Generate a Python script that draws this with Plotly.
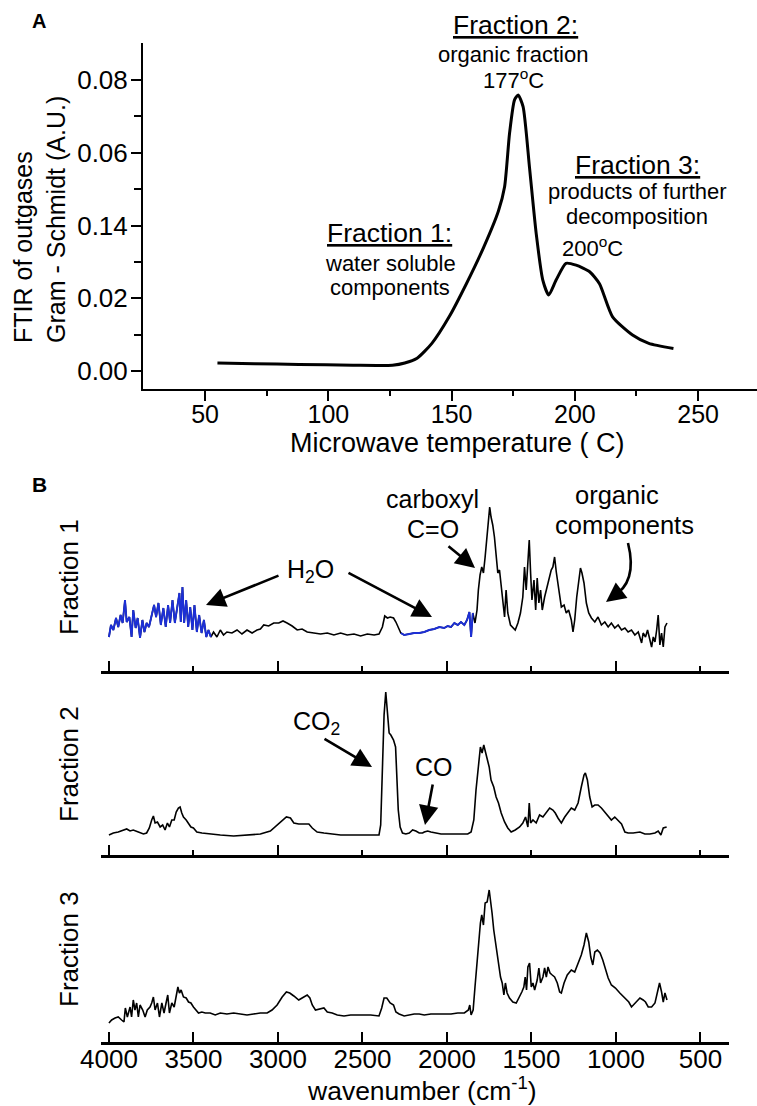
import plotly.graph_objects as go

# ---------------- Panel A data: Gram-Schmidt vs microwave temperature ----------------
temp_c = [55, 70, 88, 110, 126, 131, 136, 142, 149, 156, 163, 169, 171.5, 173.5, 175.5,
          177, 179, 181.6, 184.3, 187, 189.4, 192.4, 196.4, 200.5, 206, 210, 215.3, 223.4, 230, 240]
gram_schmidt = [0.0022, 0.0020, 0.0018, 0.0016, 0.0016, 0.0022, 0.0035, 0.0076, 0.0149, 0.024,
                0.034, 0.044, 0.0507, 0.0653, 0.0745, 0.0759, 0.0727, 0.056, 0.0379, 0.025,
                0.0209, 0.025, 0.0296, 0.0291, 0.0273, 0.024, 0.0149, 0.0099, 0.0076, 0.0062]
a_xticks = [50, 100, 150, 200, 250]
a_xminor = [75, 125, 175, 225]
a_yticks = [0.00, 0.02, 0.04, 0.06, 0.08]
a_yticktext = ["0.00", "0.02", "0.14", "0.06", "0.08"]
a_yminor = [0.01, 0.03, 0.05, 0.07]

# ---------------- Panel B data: FTIR spectra (arbitrary absorbance units) ----------------
f1_wn = [4000, 3988, 3974, 3958, 3945, 3931, 3919, 3905, 3895, 3879, 3866, 3856, 3842, 3830, 3816, 3802,
         3790, 3777, 3763, 3747, 3733, 3721, 3707, 3693, 3678, 3664, 3650, 3638, 3624, 3610, 3596, 3583,
         3575, 3565, 3555, 3543, 3531, 3519, 3506, 3494, 3480, 3466, 3452, 3438, 3424, 3411, 3397,
         3381, 3361, 3341, 3322, 3302, 3272, 3242, 3213, 3183, 3153, 3124, 3104, 3084, 3055, 3025, 2995,
         2970, 2946, 2916, 2886, 2857, 2827, 2788, 2748, 2708, 2669, 2629, 2590, 2550, 2511, 2471, 2431,
         2402, 2382, 2368, 2352, 2336,
         2316, 2302, 2288, 2273, 2253, 2223, 2194, 2164, 2134, 2105, 2075, 2045, 2016, 1996, 1976, 1956,
         1936, 1917, 1897, 1881, 1867, 1857, 1847, 1834, 1822, 1814, 1804, 1794, 1784, 1774, 1764, 1754,
         1747, 1739, 1729, 1719, 1709, 1699, 1689, 1679, 1669, 1659, 1650, 1640, 1624, 1610, 1596, 1580,
         1565, 1551, 1541, 1531, 1521, 1513, 1505, 1497, 1485, 1475, 1466, 1456, 1446, 1436, 1422, 1408,
         1394, 1383, 1373, 1363, 1353, 1343, 1333, 1323, 1307, 1294, 1280, 1264, 1254, 1244, 1232, 1220,
         1210, 1201, 1189, 1175, 1161, 1145, 1125, 1106, 1086, 1066, 1046, 1027, 1007, 987, 967, 947,
         928, 908, 888, 868, 848, 839, 825, 813, 799, 789, 779, 769, 759, 750, 740, 730, 720, 710, 698]
f1_abs = [0.34, 0.46, 0.41, 0.53, 0.44, 0.56, 0.48, 0.71, 0.49, 0.54, 0.34, 0.61, 0.43, 0.53, 0.33, 0.51,
          0.39, 0.48, 0.44, 0.56, 0.66, 0.54, 0.68, 0.46, 0.63, 0.44, 0.66, 0.48, 0.71, 0.48, 0.64, 0.78,
          0.49, 0.84, 0.48, 0.71, 0.44, 0.64, 0.41, 0.66, 0.39, 0.56, 0.38, 0.51, 0.34, 0.41, 0.34,
          0.39, 0.34, 0.41, 0.36, 0.39, 0.38, 0.41, 0.37, 0.41, 0.38, 0.41, 0.42, 0.46, 0.45, 0.48, 0.48,
          0.50, 0.48, 0.45, 0.41, 0.42, 0.39, 0.38, 0.37, 0.38, 0.36, 0.38, 0.36, 0.37, 0.35, 0.37, 0.36,
          0.37, 0.44, 0.55, 0.53, 0.54,
          0.53, 0.49, 0.43, 0.38, 0.36, 0.37, 0.38, 0.38, 0.39, 0.41, 0.42, 0.44, 0.43, 0.45, 0.44, 0.48,
          0.46, 0.49, 0.46, 0.51, 0.59, 0.34, 0.58, 0.48, 0.61, 0.81, 0.96, 1.04, 0.98, 1.14, 1.31, 1.51,
          1.64, 1.54, 1.46, 1.34, 1.11, 0.98, 1.01, 0.84, 0.64, 0.54, 0.81, 0.58, 0.46, 0.43, 0.41, 0.48,
          0.58, 0.74, 1.04, 0.81, 1.11, 1.31, 0.98, 0.71, 0.91, 0.61, 0.93, 0.68, 0.81, 0.61, 0.74, 0.84,
          0.94, 1.01, 1.04, 1.14, 0.99, 0.88, 0.78, 0.64, 0.66, 0.58, 0.61, 0.51, 0.39, 0.51, 0.74, 0.91,
          1.03, 0.98, 0.88, 0.68, 0.58, 0.53, 0.49, 0.54, 0.46, 0.49, 0.44, 0.48, 0.43, 0.46, 0.41, 0.43,
          0.39, 0.41, 0.36, 0.39, 0.28, 0.38, 0.34, 0.41, 0.29, 0.24, 0.34, 0.29, 0.41, 0.56, 0.26, 0.38,
          0.24, 0.44, 0.48]
water_bands = [(3395, 4005), (1840, 2275)]   # wavenumber ranges drawn in blue (H2O)

f2_wn = [4000, 3974, 3945, 3915, 3895, 3875, 3856, 3826, 3796, 3777, 3761, 3747, 3737, 3727, 3713, 3697,
         3682, 3668, 3654, 3642, 3628, 3614, 3602, 3589, 3579, 3569, 3559, 3543, 3529, 3515, 3500, 3480,
         3450, 3401, 3341, 3262, 3183, 3104, 3045, 3005, 2975, 2950, 2926, 2906, 2877, 2847, 2817, 2797,
         2768, 2728, 2689, 2629, 2550, 2471, 2402, 2392, 2382, 2372, 2362, 2352, 2342,
         2332, 2316, 2304, 2296, 2288, 2277, 2263, 2243, 2223, 2203, 2184, 2164, 2144, 2134, 2114, 2095,
         2065, 2035, 1996, 1956, 1917, 1877, 1857, 1841, 1828, 1814, 1802, 1792, 1782, 1772, 1762, 1750,
         1739, 1723, 1709, 1695, 1679, 1659, 1640, 1620, 1596, 1570, 1551, 1535, 1521, 1513, 1505, 1491,
         1472, 1452, 1432, 1412, 1392, 1373, 1359, 1343, 1323, 1303, 1284, 1264, 1244, 1224, 1205, 1189,
         1181, 1169, 1155, 1141, 1125, 1106, 1086, 1066, 1046, 1027, 1007, 987, 967, 947, 928, 898,
         858, 829, 799, 769, 750, 734, 720, 700]
f2_abs = [0.20, 0.22, 0.23, 0.25, 0.26, 0.24, 0.25, 0.23, 0.21, 0.22, 0.27, 0.35, 0.39, 0.32, 0.33, 0.28,
          0.30, 0.25, 0.32, 0.28, 0.35, 0.35, 0.43, 0.47, 0.48, 0.42, 0.38, 0.35, 0.32, 0.28, 0.27, 0.23,
          0.22, 0.21, 0.20, 0.19, 0.20, 0.21, 0.24, 0.30, 0.35, 0.38, 0.37, 0.32, 0.31, 0.31, 0.31, 0.27,
          0.23, 0.22, 0.21, 0.20, 0.20, 0.20, 0.20, 0.30, 0.85, 1.40, 1.63, 1.40, 1.22,
          1.20, 1.15, 1.08, 0.75, 0.45, 0.28, 0.22, 0.21, 0.22, 0.25, 0.24, 0.22, 0.22, 0.23, 0.24, 0.23,
          0.22, 0.21, 0.21, 0.21, 0.21, 0.21, 0.23, 0.35, 0.65, 0.92, 1.08, 1.02, 1.10, 1.03, 0.95, 0.88,
          0.75, 0.68, 0.58, 0.52, 0.42, 0.33, 0.27, 0.23, 0.25, 0.28, 0.32, 0.38, 0.28, 0.52, 0.32, 0.35,
          0.32, 0.40, 0.38, 0.43, 0.47, 0.45, 0.42, 0.37, 0.32, 0.38, 0.43, 0.47, 0.45, 0.52, 0.68, 0.80,
          0.82, 0.75, 0.58, 0.48, 0.50, 0.50, 0.47, 0.43, 0.38, 0.35, 0.38, 0.35, 0.31, 0.23, 0.22, 0.22,
          0.23, 0.21, 0.21, 0.22, 0.24, 0.20, 0.27, 0.28]

f3_wn = [4000, 3984, 3964, 3945, 3925, 3911, 3903, 3891, 3875, 3866, 3856, 3846, 3836, 3826, 3816, 3800,
         3786, 3773, 3757, 3747, 3737, 3727, 3713, 3701, 3687, 3674, 3662, 3652, 3642, 3628, 3614, 3602,
         3592, 3583, 3573, 3559, 3543, 3529, 3515, 3500, 3484, 3470, 3450, 3430, 3401, 3371, 3341, 3302,
         3262, 3223, 3183, 3144, 3104, 3064, 3035, 3005, 2975, 2950, 2930, 2906, 2877, 2857, 2827, 2811,
         2797, 2778, 2748, 2728, 2708, 2679, 2649, 2609, 2570, 2530, 2491, 2451, 2402, 2386, 2372, 2356,
         2336,
         2316, 2302, 2283, 2253, 2223, 2194, 2164, 2134, 2095, 2055, 2016, 1976, 1936, 1897, 1873, 1865,
         1857, 1845, 1834, 1822, 1810, 1802, 1794, 1784, 1774, 1762, 1750, 1743, 1733, 1723, 1713, 1703,
         1693, 1683, 1673, 1663, 1654, 1644, 1630, 1610, 1590, 1570, 1557, 1545, 1537, 1529, 1521, 1511,
         1501, 1491, 1481, 1466, 1456, 1446, 1432, 1422, 1412, 1402, 1390, 1377, 1363, 1347, 1333, 1323,
         1307, 1288, 1264, 1244, 1224, 1205, 1189, 1175, 1161, 1149, 1137, 1125, 1110, 1094, 1078, 1062,
         1046, 1027, 1003, 977, 947, 924, 908, 888, 858, 839, 825, 809, 789, 769, 754, 742, 730, 720,
         710, 698]
f3_abs = [0.19, 0.22, 0.24, 0.25, 0.22, 0.20, 0.34, 0.25, 0.35, 0.25, 0.42, 0.32, 0.39, 0.25, 0.37, 0.32,
          0.25, 0.32, 0.35, 0.39, 0.45, 0.32, 0.39, 0.25, 0.39, 0.29, 0.39, 0.47, 0.29, 0.39, 0.35, 0.45,
          0.55, 0.49, 0.52, 0.45, 0.44, 0.40, 0.39, 0.35, 0.32, 0.29, 0.30, 0.29, 0.29, 0.27, 0.29, 0.28,
          0.29, 0.28, 0.27, 0.28, 0.29, 0.29, 0.32, 0.37, 0.45, 0.50, 0.49, 0.46, 0.42, 0.44, 0.47, 0.44,
          0.37, 0.32, 0.33, 0.34, 0.30, 0.29, 0.27, 0.26, 0.27, 0.27, 0.27, 0.27, 0.26, 0.34, 0.44, 0.44,
          0.39,
          0.37, 0.30, 0.28, 0.26, 0.27, 0.28, 0.28, 0.27, 0.28, 0.28, 0.28, 0.28, 0.29, 0.29, 0.32, 0.37,
          0.27, 0.32, 0.55, 0.79, 1.05, 1.19, 1.27, 1.17, 1.39, 1.40, 1.52, 1.44, 1.29, 1.12, 1.00, 0.87,
          0.75, 0.65, 0.59, 0.47, 0.59, 0.49, 0.44, 0.40, 0.39, 0.45, 0.50, 0.55, 0.65, 0.52, 0.75, 0.79,
          0.55, 0.59, 0.52, 0.62, 0.74, 0.59, 0.65, 0.74, 0.65, 0.75, 0.69, 0.67, 0.65, 0.59, 0.50, 0.49,
          0.59, 0.67, 0.72, 0.70, 0.79, 0.87, 0.97, 1.09, 1.00, 0.85, 0.77, 0.90, 0.92, 0.89, 0.82, 0.72,
          0.64, 0.57, 0.54, 0.49, 0.44, 0.40, 0.35, 0.39, 0.44, 0.42, 0.40, 0.35, 0.35, 0.39, 0.49, 0.59,
          0.50, 0.40, 0.49, 0.42]
b_major = [4000, 3000, 2000, 1000]
b_minor = [3500, 2500, 1500, 500]
b_labels = [4000, 3500, 3000, 2500, 2000, 1500, 1000, 500]

# ---------------- layout helpers (pixel -> paper) ----------------
W, H = 757, 1106
def PX(x):
    return x / W
def PY(y):
    return 1 - y / H

FONT = "Liberation Sans, Arial, sans-serif"
BLUE = "#1c2fd6"

fig = go.Figure()

# Panel A
fig.add_trace(go.Scatter(x=temp_c, y=gram_schmidt, mode="lines",
                         line=dict(color="black", width=3, shape="spline", smoothing=0.6),
                         xaxis="x", yaxis="y", showlegend=False, hoverinfo="skip"))

# Panel B spectra
spectra = [(f1_wn, f1_abs, "2"), (f2_wn, f2_abs, "3"), (f3_wn, f3_abs, "4")]
for wn, ab, k in spectra:
    fig.add_trace(go.Scatter(x=wn, y=ab, mode="lines", line=dict(color="black", width=1.6),
                             xaxis="x" + k, yaxis="y" + k, showlegend=False, hoverinfo="skip"))

for lo, hi in water_bands:
    xs = [w for w in f1_wn if lo <= w <= hi]
    ys = [a for w, a in zip(f1_wn, f1_abs) if lo <= w <= hi]
    fig.add_trace(go.Scatter(x=xs, y=ys, mode="lines", line=dict(color=BLUE, width=1.9),
                             xaxis="x2", yaxis="y2", showlegend=False, hoverinfo="skip"))

axis_common = dict(showgrid=False, zeroline=False, showline=True, linecolor="black",
                   tickcolor="black", ticks="outside", automargin=False)

layout = dict(
    template="none",
    width=W, height=H, margin=dict(l=0, r=0, t=0, b=0, pad=0, autoexpand=False),
    paper_bgcolor="white", plot_bgcolor="white",
    font=dict(family=FONT, color="black"),
    xaxis=dict(axis_common, domain=[PX(143), 1.0], range=[24.8, 273.9], anchor="y",
               linewidth=2, tickwidth=2, ticklen=10, tickmode="array", tickvals=a_xticks,
               ticklabelstandoff=-8, tickfont=dict(family=FONT, size=25, color="black"),
               minor=dict(tickmode="array", tickvals=a_xminor, ticklen=5, tickwidth=2,
                          tickcolor="black", ticks="outside", showgrid=False)),
    yaxis=dict(axis_common, domain=[PY(389), PY(43)], range=[-0.00495, 0.0902], anchor="x",
               linewidth=2, tickwidth=2, ticklen=10, tickmode="array", tickvals=a_yticks,
               ticktext=a_yticktext, ticklabelstandoff=-2,
               tickfont=dict(family=FONT, size=26, color="black"),
               minor=dict(tickmode="array", tickvals=a_yminor, ticklen=7, tickwidth=2,
                          tickcolor="black", ticks="outside", showgrid=False)),
)

b_frames = [("2", 671, 490, False), ("3", 855, 680, False), ("4", 1042, 870, True)]
for k, bottom, top, labels in b_frames:
    layout["xaxis" + k] = dict(
        showgrid=False, zeroline=False, showline=True, linecolor="black", linewidth=2.5,
        automargin=False,
        domain=[PX(101), PX(729)], range=[4047, 331], anchor="y" + k,
        ticks="inside", ticklen=10, tickwidth=2, tickcolor="black",
        tickmode="array", tickvals=(b_labels if labels else b_major),
        ticktext=([str(v) for v in b_labels] if labels else None),
        showticklabels=labels, ticklabelstandoff=-8,
        tickfont=dict(family=FONT, size=26, color="black"),
        minor=dict(tickmode="array", tickvals=b_minor, ticklen=5, tickwidth=2,
                   tickcolor="black", ticks="inside", showgrid=False))
    layout["yaxis" + k] = dict(domain=[PY(bottom), PY(top)], range=[0, (bottom - top) / 100.0],
                               anchor="x" + k, visible=False, fixedrange=True, automargin=False)

fig.update_layout(**layout)

def txt(text, x, y, size, angle=0, align="center"):
    return dict(text=text, x=PX(x), y=PY(y), xref="paper", yref="paper", showarrow=False,
                xanchor="center", yanchor="middle", textangle=angle, align=align,
                font=dict(family=FONT, size=size, color="black"))

def arrow(tipx, tipy, tailx, taily, size=1.5):
    return dict(text="", x=PX(tipx), y=PY(tipy), xref="paper", yref="paper",
                ax=tailx - tipx, ay=taily - tipy, axref="pixel", ayref="pixel",
                showarrow=True, arrowhead=2, arrowsize=size, arrowwidth=2.6,
                arrowcolor="black", standoff=0, startstandoff=0)

annotations = [
    txt("<b>A</b>", 39, 21, 20),
    txt("<b>B</b>", 39, 484, 21),
    txt("FTIR of outgases<br>Gram - Schmidt (A.U.)", 39, 220, 25, angle=-90, align="left"),
    txt("Microwave temperature ( C)", 458, 443, 27),
    txt("<u>Fraction 2:</u>", 515, 25, 26.5),
    txt("organic fraction", 513, 54, 22),
    txt("177<sup>o</sup>C", 513, 79, 22),
    txt("<u>Fraction 3:</u>", 637, 165, 26.5),
    txt("products of further", 637, 192, 22),
    txt("decomposition", 637, 217, 22),
    txt("200<sup>o</sup>C", 592, 247, 22),
    txt("<u>Fraction 1:</u>", 389, 233, 26.5),
    txt("water soluble", 390, 263, 22),
    txt("components", 390, 287, 22),
    # panel B
    txt("Fraction 1", 69, 577, 26, angle=-90),
    txt("Fraction 2", 69, 764, 26, angle=-90),
    txt("Fraction 3", 69, 949, 26, angle=-90),
    txt("wavenumber (cm<sup>-1</sup>)", 422, 1089, 26.5),
    txt("H<sub>2</sub>O", 310, 571, 25),
    txt("carboxyl", 432, 499, 25),
    txt("C=O", 433, 529, 25),
    txt("organic", 617, 495, 25.5),
    txt("components", 624, 525, 25.5),
    txt("CO<sub>2</sub>", 316, 723, 25),
    txt("CO", 434, 767, 25),
    arrow(206, 605, 280, 575),
    arrow(432, 617, 347, 572),
    arrow(475, 568, 447, 545),
    arrow(372, 767, 323, 738),
    arrow(425, 825, 433, 783),
    arrow(606, 602, 614, 596),
]
fig.update_layout(annotations=annotations)

# curved arrow shaft for "organic components"
p0 = (628, 543); c = (638, 583); p1 = (612, 597)
path = "M {} {} Q {} {} {} {}".format(PX(p0[0]), PY(p0[1]), PX(c[0]), PY(c[1]), PX(p1[0]), PY(p1[1]))
fig.add_shape(type="path", path=path, xref="paper", yref="paper",
              line=dict(color="black", width=2.6))

fig.write_html("out.html", config={"displayModeBar": False},
               post_script="document.body.style.margin='0px';document.body.style.padding='0px';")
